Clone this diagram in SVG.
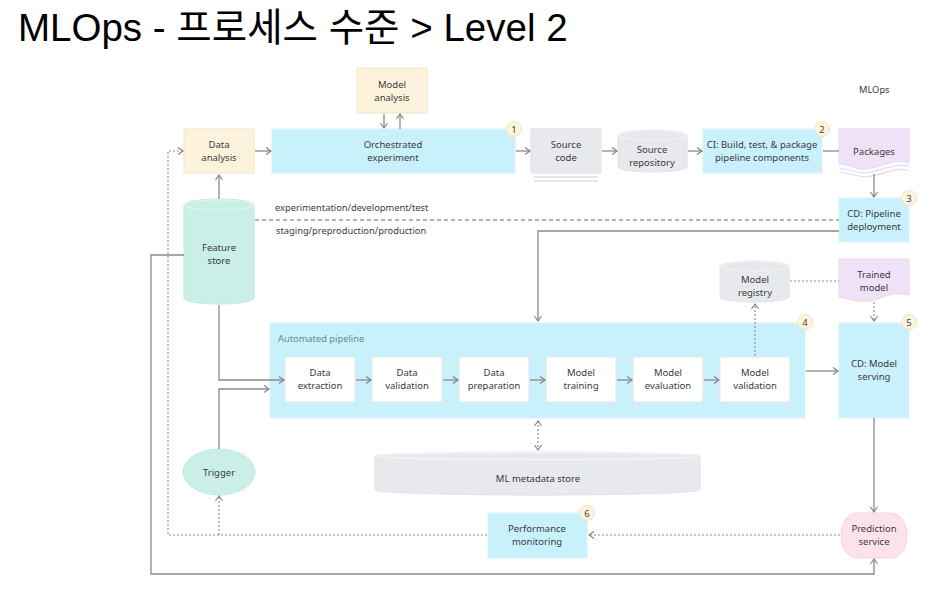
<svg xmlns="http://www.w3.org/2000/svg" width="933" height="590" viewBox="0 0 933 590">
<defs>
<marker id="ah" markerWidth="8" markerHeight="8" refX="6" refY="4" orient="auto" markerUnits="userSpaceOnUse">
<path d="M1,0.5 L6,4 L1,7.5" fill="none" stroke="#808080" stroke-width="1.1"/>
</marker>
<marker id="ahs" markerWidth="8" markerHeight="8" refX="6" refY="4" orient="auto-start-reverse" markerUnits="userSpaceOnUse">
<path d="M1,0.5 L6,4 L1,7.5" fill="none" stroke="#808080" stroke-width="1.1"/>
</marker>
</defs>
<style>
.t{font-family:"Noto Sans","Open Sans","DejaVu Sans",sans-serif;font-size:9.5px;fill:#3a3a3a;text-anchor:middle}
.s{font-family:"Noto Sans","Open Sans","DejaVu Sans",sans-serif;font-size:9.3px;fill:#3a3a3a}
.cyan{fill:#c8f1fb;stroke:#d8f4fb;stroke-width:1}
.cream{fill:#fdf3dc;stroke:#efe6cc;stroke-width:1}
.gray{fill:#e8e9ed;stroke:#e1e2e6;stroke-width:1}
.purple{fill:#efe1f6;stroke:#e6d8ee;stroke-width:1}
.mint{fill:#c9efe7;stroke:#c0e8df;stroke-width:1}
.pink{fill:#fde2ec;stroke:#f5d4e0;stroke-width:1}
.white{fill:#ffffff;stroke:#e4e4e4;stroke-width:1}
.badge circle{fill:#fdf6dc;stroke:#efe4bf;stroke-width:1}
.badge text{font-family:"Noto Sans","DejaVu Sans",sans-serif;font-size:9.5px;fill:#444;text-anchor:middle}
.c{fill:none;stroke:#8a8a8a;stroke-width:1.3}
.d{fill:none;stroke:#8a8a8a;stroke-width:1.1;stroke-dasharray:2,2}
.dash{fill:none;stroke:#9a9a9a;stroke-width:1.3;stroke-dasharray:4,3}
</style>
<rect width="933" height="590" fill="#ffffff"/>
<text x="18" y="41" font-family="'Liberation Sans','Noto Sans CJK KR',sans-serif" font-size="38.5" fill="#000">MLOps - 프로세스 수준 &gt; Level 2</text>
<text x="859" y="93" class="s">MLOps</text>

<g id="model-analysis"><rect class="cream" x="357" y="68" width="70" height="45"/><text class="t" x="392" y="88">Model</text><text class="t" x="392" y="101">analysis</text></g>
<g id="data-analysis"><rect class="cream" x="184" y="129" width="70" height="44"/><text class="t" x="219" y="148">Data</text><text class="t" x="219" y="161">analysis</text></g>
<g id="orchestrated"><rect class="cyan" x="272" y="129" width="243" height="44"/><text class="t" x="393" y="148">Orchestrated</text><text class="t" x="393" y="161">experiment</text>
<g class="badge"><circle cx="514" cy="129" r="7.5"/><text x="514" y="132.5">1</text></g></g>
<g id="source-code"><rect class="gray" x="531" y="129" width="70" height="44"/><line x1="534" y1="177" x2="598" y2="177" stroke="#dcdde1" stroke-width="1.3"/><line x1="534" y1="181" x2="598" y2="181" stroke="#dcdde1" stroke-width="1.3"/><text class="t" x="566" y="148">Source</text><text class="t" x="566" y="161">code</text></g>
<g id="source-repo"><path class="gray" d="M618,135 V167 A34.5,5 0 0 0 687,167 V135 A34.5,5 0 0 0 618,135 Z"/><ellipse cx="652.5" cy="135" rx="34.5" ry="5" fill="#e8e9ed" stroke="#f6f6f8" stroke-width="1"/><text class="t" x="652" y="153">Source</text><text class="t" x="652" y="166">repository</text></g>
<g id="ci"><rect class="cyan" x="703" y="129" width="119" height="44"/><text class="t" x="762" y="148">CI: Build, test, &amp; package</text><text class="t" x="762" y="161">pipeline components</text>
<g class="badge"><circle cx="822" cy="129" r="7.5"/><text x="822" y="132.5">2</text></g></g>
<g id="packages"><path class="purple" d="M839,129 H909 V163 C892,156 872,174 856,168 C849,166 844,164 839,164 Z"/><path d="M839,168 C846,169 851,171 858,172 C873,176 892,162 909,166" fill="none" stroke="#e6d8ee" stroke-width="1.2"/><path d="M840,172 C847,173 852,175 859,176 C874,180 892,166 908,170" fill="none" stroke="#e6d8ee" stroke-width="1.2"/><text class="t" x="874" y="155">Packages</text></g>
<g id="cd-pipeline"><rect class="cyan" x="839" y="198" width="70" height="44"/><text class="t" x="874" y="217">CD: Pipeline</text><text class="t" x="874" y="230">deployment</text>
<g class="badge"><circle cx="909" cy="198" r="7.5"/><text x="909" y="201.5">3</text></g></g>
<g id="feature-store"><path class="mint" d="M184,205 V298 A35,6 0 0 0 254,298 V205 A35,6 0 0 0 184,205 Z"/><ellipse cx="219" cy="205" rx="35" ry="5" fill="#c9efe7" stroke="#e2f7f2" stroke-width="1"/><text class="t" x="219" y="251">Feature</text><text class="t" x="219" y="264">store</text></g>
<text class="s" x="275" y="211">experimentation/development/test</text>
<text class="s" x="276" y="234">staging/preproduction/production</text>

<g id="automated-pipeline"><rect class="cyan" x="270" y="323" width="535" height="95"/><text class="s" x="278" y="342" font-size="8.3" style="fill:#6d8791">Automated pipeline</text>
<g class="badge"><circle cx="805" cy="322" r="7.5"/><text x="805" y="325.5">4</text></g></g>
<g id="data-extraction"><rect class="white" x="285" y="357" width="70" height="45"/><text class="t" x="320" y="376">Data</text><text class="t" x="320" y="389">extraction</text></g>
<g id="data-validation"><rect class="white" x="372" y="357" width="70" height="45"/><text class="t" x="407" y="376">Data</text><text class="t" x="407" y="389">validation</text></g>
<g id="data-preparation"><rect class="white" x="459" y="357" width="70" height="45"/><text class="t" x="494" y="376">Data</text><text class="t" x="494" y="389">preparation</text></g>
<g id="model-training"><rect class="white" x="546" y="357" width="70" height="45"/><text class="t" x="581" y="376">Model</text><text class="t" x="581" y="389">training</text></g>
<g id="model-evaluation"><rect class="white" x="633" y="357" width="70" height="45"/><text class="t" x="668" y="376">Model</text><text class="t" x="668" y="389">evaluation</text></g>
<g id="model-validation"><rect class="white" x="720" y="357" width="70" height="45"/><text class="t" x="755" y="376">Model</text><text class="t" x="755" y="389">validation</text></g>
<g id="model-registry"><path class="gray" d="M720,266 V297 A34.5,5 0 0 0 789,297 V266 A34.5,5 0 0 0 720,266 Z"/><ellipse cx="754.5" cy="266" rx="34.5" ry="5" fill="#e8e9ed" stroke="#f6f6f8" stroke-width="1"/><text class="t" x="755" y="283">Model</text><text class="t" x="755" y="296">registry</text></g>
<g id="trained-model"><path class="purple" d="M839,259 H909 V295 C893,291 885,297 874,300 C862,304 850,299 839,297 Z"/><text class="t" x="874" y="278">Trained</text><text class="t" x="874" y="291">model</text></g>
<g id="cd-serving"><rect class="cyan" x="839" y="323" width="70" height="95"/><text class="t" x="874" y="367">CD: Model</text><text class="t" x="874" y="380">serving</text>
<g class="badge"><circle cx="909" cy="322" r="7.5"/><text x="909" y="325.5">5</text></g></g>
<g id="ml-metadata"><path class="gray" d="M375,456 V490 A162.5,5 0 0 0 700,490 V456 A162.5,4 0 0 0 375,456 Z"/><ellipse cx="537.5" cy="456" rx="162.5" ry="3.5" fill="#e8e9ed" stroke="#f7f7f9" stroke-width="1.2"/><text class="t" x="538" y="482">ML metadata store</text></g>
<g id="trigger"><ellipse class="mint" cx="219" cy="472" rx="36" ry="23"/><text class="t" x="219" y="476">Trigger</text></g>
<g id="performance-monitoring"><rect class="cyan" x="488" y="513" width="99" height="45"/><text class="t" x="537" y="532">Performance</text><text class="t" x="537" y="545">monitoring</text>
<g class="badge"><circle cx="587" cy="513" r="7.5"/><text x="587" y="516.5">6</text></g></g>
<g id="prediction-service"><rect class="pink" x="841" y="513" width="66" height="45" rx="16" ry="22"/><text class="t" x="874" y="532">Prediction</text><text class="t" x="874" y="545">service</text></g>

<g id="connectors">
<path class="c" d="M384,114 V128" marker-end="url(#ah)"/>
<path class="c" d="M400,129 V114" marker-end="url(#ah)"/>
<path class="c" d="M255,151 H271" marker-end="url(#ah)"/>
<path class="c" d="M516,151 H530" marker-end="url(#ah)"/>
<path class="c" d="M602,151 H617" marker-end="url(#ah)"/>
<path class="c" d="M688,151 H702" marker-end="url(#ah)"/>
<path class="c" d="M823,151 H839"/>
<path class="c" d="M874,174 V197" marker-end="url(#ah)"/>
<path class="dash" d="M255,220 H839"/>
<path class="c" d="M839,231 H538 V321" marker-end="url(#ah)"/>
<path class="c" d="M219,199 V175" marker-end="url(#ah)"/>
<path class="c" d="M219,305 V380 H284" marker-end="url(#ah)"/>
<path class="c" d="M219,449 V389 H269" marker-end="url(#ah)"/>
<path class="c" d="M356,380 H371" marker-end="url(#ah)"/>
<path class="c" d="M443,380 H458" marker-end="url(#ah)"/>
<path class="c" d="M530,380 H545" marker-end="url(#ah)"/>
<path class="c" d="M617,380 H632" marker-end="url(#ah)"/>
<path class="c" d="M704,380 H719" marker-end="url(#ah)"/>
<path class="d" d="M755,356 V304" marker-end="url(#ah)"/>
<path class="d" d="M790,281 H839"/>
<path class="d" d="M874,302 V321" marker-end="url(#ah)"/>
<path class="c" d="M806,371 H838" marker-end="url(#ah)"/>
<path class="c" d="M874,418 V512" marker-end="url(#ah)"/>
<path class="d" d="M538,421 V450" marker-start="url(#ahs)" marker-end="url(#ah)"/>
<path class="d" d="M840,535 H589" marker-end="url(#ah)"/>
<path class="d" d="M487,535 H168 V151 H183" marker-end="url(#ah)"/>
<path class="d" d="M219,535 V496" marker-end="url(#ah)"/>
<path class="c" d="M184,255 H151 V574 H874 V559" marker-end="url(#ah)"/>
</g>
</svg>
